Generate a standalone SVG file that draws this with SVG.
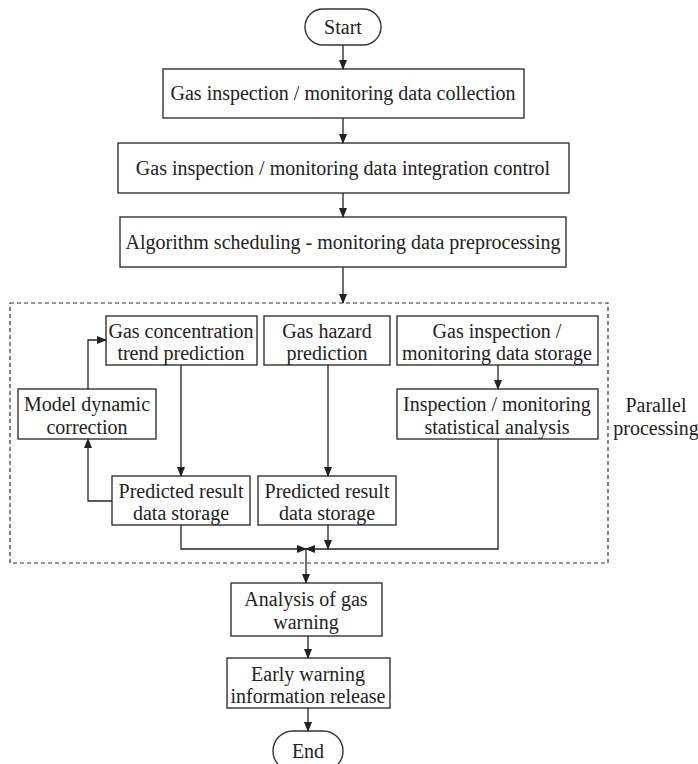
<svg xmlns="http://www.w3.org/2000/svg" width="698" height="764" viewBox="0 0 698 764">
<defs>
<marker id="ah" markerWidth="10" markerHeight="8" refX="9" refY="4" orient="auto" markerUnits="userSpaceOnUse">
<path d="M0,0 L10,4 L0,8 Z" fill="#222"/>
</marker>
<style>
.box{fill:#fff;stroke:#333;stroke-width:1.4}
.t{font-family:"Liberation Serif","Times New Roman",serif;font-size:20px;fill:#222;text-anchor:middle}
.c{fill:none;stroke:#222;stroke-width:1.3;marker-end:url(#ah)}
.dash{fill:none;stroke:#333;stroke-width:1.2;stroke-dasharray:4,3}
</style>
</defs>
<rect width="698" height="764" fill="#fff"/>
<g id="parallel">
<rect class="dash" x="10" y="303" width="598" height="260"/>
<text class="t" x="656" y="412">Parallel</text>
<text class="t" x="656" y="435">processing</text>
</g>
<g id="start"><rect class="box" x="305" y="9" width="76" height="36" rx="18"/><text class="t" x="343" y="34">Start</text></g>
<g id="n1"><rect class="box" x="163" y="69" width="361" height="49"/><text class="t" x="343" y="100">Gas inspection / monitoring data collection</text></g>
<g id="n2"><rect class="box" x="118" y="143" width="451" height="50"/><text class="t" x="343" y="175">Gas inspection / monitoring data integration control</text></g>
<g id="n3"><rect class="box" x="120" y="217" width="446" height="50"/><text class="t" x="343" y="249">Algorithm scheduling - monitoring data preprocessing</text></g>
<g id="n4"><rect class="box" x="106" y="316" width="151" height="49"/><text class="t" x="181" y="338">Gas concentration</text><text class="t" x="181" y="360">trend prediction</text></g>
<g id="n5"><rect class="box" x="264" y="316" width="126" height="49"/><text class="t" x="327" y="338">Gas hazard</text><text class="t" x="327" y="360">prediction</text></g>
<g id="n6"><rect class="box" x="397" y="316" width="201" height="49"/><text class="t" x="497" y="338">Gas inspection /</text><text class="t" x="497" y="360">monitoring data storage</text></g>
<g id="n7"><rect class="box" x="18" y="389" width="138" height="50"/><text class="t" x="87" y="411">Model dynamic</text><text class="t" x="87" y="434">correction</text></g>
<g id="n8"><rect class="box" x="397" y="389" width="201" height="50"/><text class="t" x="497" y="411">Inspection / monitoring</text><text class="t" x="497" y="434">statistical analysis</text></g>
<g id="n9"><rect class="box" x="112" y="476" width="138" height="49"/><text class="t" x="181" y="498">Predicted result</text><text class="t" x="181" y="520">data storage</text></g>
<g id="n10"><rect class="box" x="258" y="476" width="138" height="49"/><text class="t" x="327" y="498">Predicted result</text><text class="t" x="327" y="520">data storage</text></g>
<g id="n11"><rect class="box" x="231" y="583" width="151" height="53"/><text class="t" x="306" y="606">Analysis of gas</text><text class="t" x="306" y="629">warning</text></g>
<g id="n12"><rect class="box" x="227" y="658" width="163" height="50"/><text class="t" x="308" y="681">Early warning</text><text class="t" x="308" y="703">information release</text></g>
<g id="end"><rect class="box" x="273" y="731" width="70" height="40" rx="20"/><text class="t" x="308" y="758">End</text></g>
<g id="connectors">
<line class="c" x1="343" y1="45" x2="343" y2="69"/>
<line class="c" x1="343" y1="118" x2="343" y2="143"/>
<line class="c" x1="343" y1="193" x2="343" y2="217"/>
<line class="c" x1="343" y1="267" x2="343" y2="303"/>
<line class="c" x1="181" y1="365" x2="181" y2="476"/>
<line class="c" x1="328" y1="365" x2="328" y2="476"/>
<line class="c" x1="498" y1="365" x2="498" y2="389"/>
<polyline class="c" points="88,389 88,340 106,340"/>
<polyline class="c" points="112,501 88,501 88,439"/>
<polyline class="c" points="181,525 181,549 306,549"/>
<polyline class="c" points="498,439 498,549 306,549"/>
<line class="c" x1="328" y1="525" x2="328" y2="549"/>
<line class="c" x1="306" y1="549" x2="306" y2="583"/>
<line class="c" x1="308" y1="636" x2="308" y2="658"/>
<line class="c" x1="308" y1="708" x2="308" y2="731"/>
</g>
</svg>
